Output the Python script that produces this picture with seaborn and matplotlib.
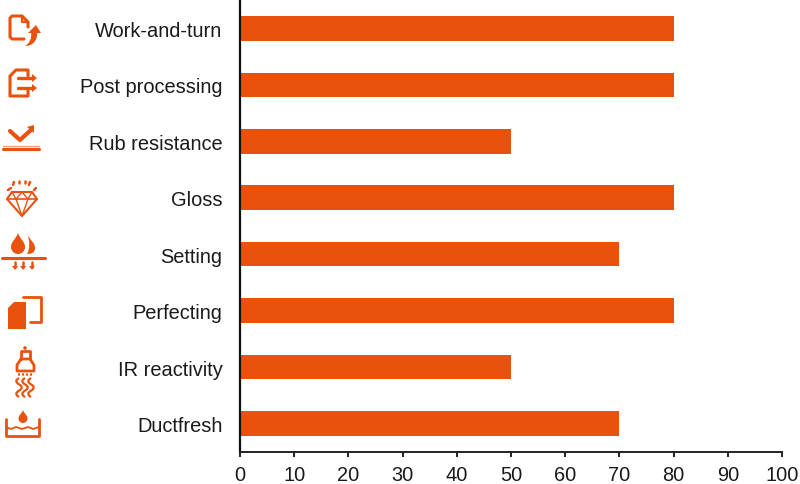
import matplotlib
matplotlib.use("Agg")
import matplotlib.pyplot as plt
import seaborn as sns
import pandas as pd
from matplotlib.patches import Polygon, Circle, PathPatch
from matplotlib.path import Path

# Dados
categorias = ["Work-and-turn", "Post processing", "Rub resistance", "Gloss",
              "Setting", "Perfecting", "IR reactivity", "Ductfresh"]
valores = [80, 80, 50, 80, 70, 80, 50, 70]
ticks_x = [0, 10, 20, 30, 40, 50, 60, 70, 80, 90, 100]

LARANJA = "#E9520C"

sns.set_theme(style="white")
plt.rcParams["font.family"] = ["Liberation Sans", "DejaVu Sans"]

df = pd.DataFrame({"categoria": categorias, "valor": valores})

fig = plt.figure(figsize=(8, 4.85), dpi=100)
ax = fig.add_axes([240 / 800, 1 - 453.3 / 485, 542 / 800, 453.3 / 485])

sns.barplot(data=df, y="categoria", x="valor", order=categorias, color=LARANJA,
            saturation=1, width=0.434, linewidth=0, edgecolor="none", ax=ax)
ax.set_xlim(0, 100)
ax.set_ylim(7.51, -0.521)
ax.set_xticks(ticks_x)
ax.set_xlabel("")
ax.set_ylabel("")
ax.tick_params(axis="x", length=3.6, width=1.4, color="#222222", labelsize=14.4,
               labelcolor="#1a1a1a", pad=5.8, bottom=True)
ax.tick_params(axis="y", length=0, labelsize=14.4, labelcolor="#1a1a1a", pad=12.5)
sns.despine(ax=ax)
ax.spines["left"].set_linewidth(1.6)
ax.spines["left"].set_color("#111111")
ax.spines["bottom"].set_linewidth(1.4)
ax.spines["bottom"].set_color("#222222")
ax.patch.set_alpha(0)

# --------------------------
# Icones (coordenadas em pixels)
# --------------------------
ic = fig.add_axes([0, 0, 60 / 800, 1])
ic.set_xlim(0, 60)
ic.set_ylim(485, 0)
ic.axis("off")


def linha(pts, lw=2.0, cor=LARANJA):
    xs, ys = zip(*pts)
    ic.plot(xs, ys, color=cor, lw=lw, solid_joinstyle="round", solid_capstyle="round")


def forma(pts, cor=LARANJA):
    ic.add_patch(Polygon(pts, closed=True, fc=cor, ec="none"))


def curva(verts, cor=LARANJA):
    # primeiro ponto + trios de pontos de controle
    cods = [Path.MOVETO] + [Path.CURVE4] * (len(verts) - 1)
    ic.add_patch(PathPatch(Path(verts, cods), fc=cor, ec="none"))


def gota(cx, topo, base, larg):
    h = base - topo
    curva([(cx, topo),
           (cx - 0.3 * larg, topo + 0.3 * h), (cx - larg, topo + 0.4 * h), (cx - larg, base - larg),
           (cx - larg, base - 0.4 * larg), (cx - 0.5 * larg, base), (cx, base),
           (cx + 0.5 * larg, base), (cx + larg, base - 0.4 * larg), (cx + larg, base - larg),
           (cx + larg, topo + 0.4 * h), (cx + 0.3 * larg, topo + 0.3 * h), (cx, topo)])


def onda(x, y0, y1, amp=1.8):
    passo = (y1 - y0) / 6
    verts = [(x, y0)]
    for i in range(3):
        s = -amp if i % 2 == 0 else amp
        a = y0 + 2 * i * passo
        verts += [(x + s * 2, a + passo * 0.7), (x + s * 2, a + passo * 1.3), (x, a + 2 * passo)]
    cods = [Path.MOVETO] + [Path.CURVE4] * 9
    ic.add_patch(PathPatch(Path(verts, cods), fc="none", ec=LARANJA, lw=1.6))


# Work-and-turn
linha([(24, 40), (12, 40), (10, 38), (10, 19), (12, 17), (22, 17), (28, 23), (28, 28)], 2.2)
linha([(22, 17), (22, 23), (28, 23)], 1.6)
curva([(25, 47), (33, 47), (38, 41), (37, 33), (35, 33), (34, 33), (31, 33),
       (32, 39), (30, 44), (25, 47)])
forma([(28, 34), (41, 34), (36, 26)])

# Post processing
linha([(28, 77), (28, 71), (16, 71), (10, 77), (10, 97), (28, 97), (28, 92)], 2.2)
for y in [79, 89]:
    linha([(18, y), (32, y)], 2.4)
    forma([(32, y - 4), (37, y), (32, y + 4)])

# Rub resistance
linha([(10, 132), (20, 141), (32, 130)], 3.0)
forma([(27, 128), (34, 126), (34, 134)])
linha([(3, 147), (39, 147)], 1.0, "#F4A078")
linha([(3, 150), (39, 150)], 2.2)

# Gloss
linha([(12, 193), (32, 193), (37, 200), (22, 217), (7, 200), (12, 193)], 1.5)
linha([(7, 200), (37, 200)], 1.2)
linha([(12, 193), (16, 200), (22, 217), (28, 200), (32, 193)], 1.0)
linha([(16, 200), (22, 193), (28, 200)], 1.0)
for p, q in [((8, 191), (11, 189)), ((13, 186), (14, 183)), ((19, 184), (19, 182)),
             ((25, 184), (25, 182)), ((29, 186), (30, 183)), ((34, 191), (36, 189))]:
    linha([p, q], 1.8)

# Setting
gota(18, 234, 255, 7)
curva([(27, 234), (29, 241), (35, 243), (35, 249), (35, 254), (31, 255), (27, 255),
       (30, 250), (30, 242), (27, 234)])
linha([(2, 259), (45, 259)], 2.2)
for x in [15, 23, 32]:
    linha([(x, 263), (x, 268)], 1.8)
    forma([(x - 3, 267), (x + 3, 267), (x, 271)])

# Perfecting
forma([(14, 303), (26, 303), (26, 330), (8, 330), (8, 309)])
linha([(23, 298), (41, 298), (41, 323), (30, 323)], 2.0)

# IR reactivity
ic.add_patch(Circle((25, 349), 1.8, fc=LARANJA, ec="none"))
linha([(21, 360), (21, 352), (30, 352), (30, 360)], 2.0)
linha([(21, 360), (17, 366), (17, 372), (34, 372), (34, 366), (30, 360), (21, 360)], 2.0)
for x in [19, 23, 27, 31]:
    linha([(x, 374.5), (x, 375.5)], 1.4)
for x in [20, 26, 32]:
    onda(x - 1, 379, 398)

# Ductfresh
gota(23, 411, 424, 4.5)
linha([(6, 420), (6, 437), (39, 437), (39, 420)], 2.0)
linha([(6, 428), (11, 430), (16, 428), (22, 430), (28, 428), (33, 430), (39, 428)], 1.3)

fig.savefig("out.png", dpi=100)
plt.close(fig)
